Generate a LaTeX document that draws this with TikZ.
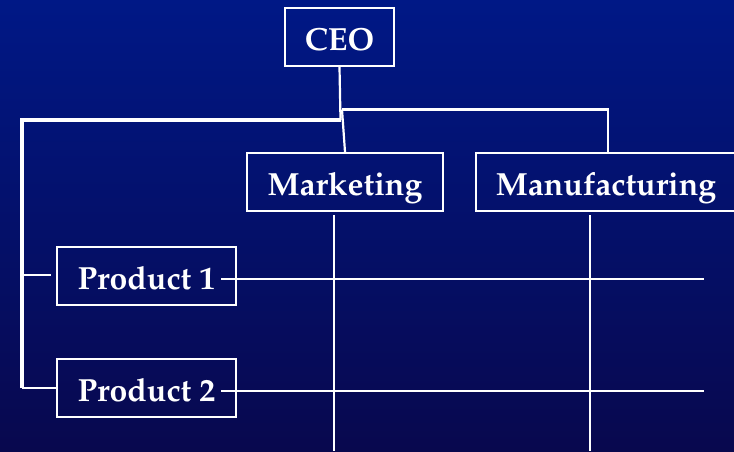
\documentclass[tikz,border=0pt]{standalone}
\usepackage[T1]{fontenc}
\usepackage{mathpazo}
\usetikzlibrary{calc}
\definecolor{bgtop}{RGB}{0,24,134}
\definecolor{bgbottom}{RGB}{8,8,78}
\tikzset{
  unit/.style={draw=white, line width=2.2pt, text=white, inner sep=0pt,
    minimum height=58pt, text height=30pt, text depth=4pt,
    font=\bfseries\fontsize{32}{38}\selectfont},
  link/.style={draw=white, line width=2.2pt},
  trunk/.style={draw=white, line width=3.5pt}
}
\begin{document}
\begin{tikzpicture}[x=1pt,y=-1pt]
\useasboundingbox (0,0) rectangle (734,451);
\shade[top color=bgtop, bottom color=bgbottom] (0,0) rectangle (734,451);

% units
\node[unit, minimum width=109pt] (ceo) at (339.5,37) {CEO};
\node[unit, minimum width=196pt] (mkt) at (345,182) {Marketing};
\node[unit, minimum width=260pt] (mfg) at (606,182) {Manufacturing};
\node[unit, minimum width=179pt] (p1) at (146.5,276) {Product 1};
\node[unit, minimum width=179pt] (p2) at (146.5,388) {Product 2};

% reporting lines from the top
\coordinate (knee) at (340.5,120);
\coordinate (fork) at (342,109.5);
\coordinate (leftcorner) at (22,120);
\draw[link] (ceo.south) -- (knee);
\draw[link] (fork) -- (mkt.north);
\draw[link] (fork) -| (mfg.north -| 608,0);
\draw[trunk] (knee) -- (leftcorner) -- (22,388);
\draw[link] (22,275) -- ($(p1.west)+(-5,-1)$);
\draw[link] (22,388) -- (p2.west);

% matrix lines
\coordinate (mktdown) at (334,215);
\coordinate (mktend) at (334,451);
\coordinate (mfgdown) at (590,215);
\coordinate (mfgend) at (590,451);
\coordinate (p1start) at (221,279);
\coordinate (p1end) at (704,279);
\coordinate (p2start) at (221,391);
\coordinate (p2end) at (704,391);
\draw[link] (mktdown) -- (mktend);
\draw[link] (mfgdown) -- (mfgend);
\draw[link] (p1start) -- (p1end);
\draw[link] (p2start) -- (p2end);
\end{tikzpicture}
\end{document}
